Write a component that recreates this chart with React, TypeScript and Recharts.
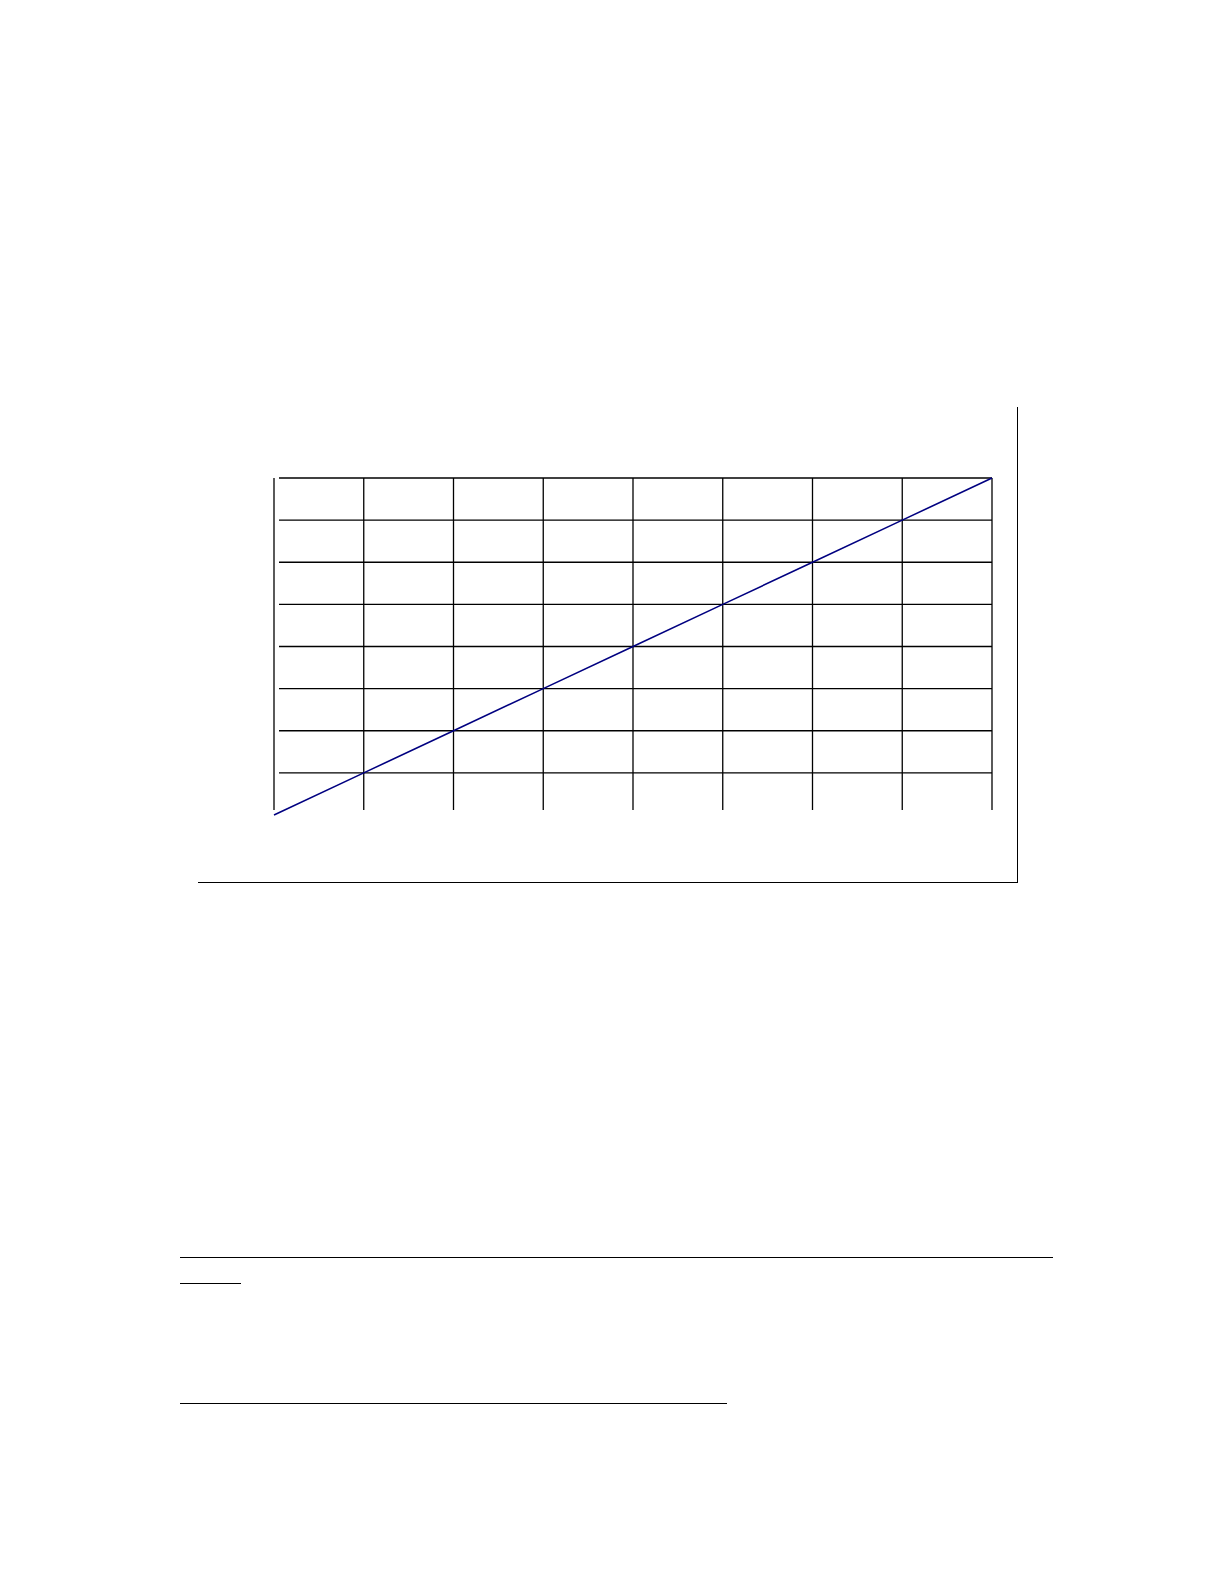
import { LineChart, Line, XAxis, YAxis, CartesianGrid } from "recharts";

// values: the line runs through every grid crossing
const xValues = [0, 1, 2, 3, 4, 5, 6, 7, 8];
const yValues = [0, 1, 2, 3, 4, 5, 6, 7, 8];
const xTicks = [0, 1, 2, 3, 4, 5, 6, 7, 8];
const yTicks = [1, 2, 3, 4, 5, 6, 7, 8];

const data = xValues.map((x, i) => ({ x, y: yValues[i] }));

const GRID_COLOR = "#000000";
const LINE_COLOR = "#000080";
const CHART_HEIGHT = 1000;
const MARGIN = { top: 478, right: 232, left: 274, bottom: 185 };
const PLOT_BOTTOM = CHART_HEIGHT - MARGIN.bottom;

// horizontal rules start a little right of the left axis, none on the baseline
const renderHorizontal = (props: any) => {
  const { x1, y1, x2, y2, index } = props;
  if (y1 > PLOT_BOTTOM - 2) return <g key={`h-${index}`} />;
  return (
    <line
      key={`h-${index}`}
      x1={x1 + 5}
      y1={y1}
      x2={x2}
      y2={y2}
      stroke={GRID_COLOR}
      strokeWidth={1.3}
    />
  );
};

// vertical rules stop just short of the bottom
const renderVertical = (props: any) => {
  const { x1, y1, x2, y2, index } = props;
  return (
    <line
      key={`v-${index}`}
      x1={x1}
      y1={y1}
      x2={x2}
      y2={y2 - 5}
      stroke={GRID_COLOR}
      strokeWidth={1.3}
    />
  );
};

const rule = (left: number, top: number, width: number) => (
  <div
    style={{
      position: "absolute",
      left,
      top,
      width,
      height: 0,
      borderTop: "1.5px solid #000",
    }}
  />
);

export default function App() {
  return (
    <div
      style={{
        position: "absolute",
        left: 0,
        top: 0,
        width: 1224,
        height: 1584,
        background: "#fff",
        overflow: "hidden",
      }}
    >
      {/* frame: only right and bottom edges */}
      <div
        style={{
          position: "absolute",
          left: 198,
          top: 407,
          width: 819,
          height: 475,
          borderRight: "1.5px solid #000",
          borderBottom: "1.5px solid #000",
        }}
      />
      <div style={{ position: "absolute", left: 0, top: 0 }}>
        <LineChart
          width={1224}
          height={CHART_HEIGHT}
          data={data}
          margin={MARGIN}
        >
          <CartesianGrid
            horizontal={renderHorizontal}
            vertical={renderVertical}
          />
          <XAxis
            dataKey="x"
            type="number"
            domain={[0, 8]}
            ticks={xTicks}
            hide
          />
          <YAxis type="number" domain={[0, 8]} ticks={yTicks} hide />
          <Line
            type="linear"
            dataKey="y"
            stroke={LINE_COLOR}
            strokeWidth={1.6}
            dot={false}
            isAnimationActive={false}
          />
        </LineChart>
      </div>
      {rule(180, 1257, 873)}
      {rule(180, 1283, 61)}
      {rule(180, 1403, 547)}
    </div>
  );
}
